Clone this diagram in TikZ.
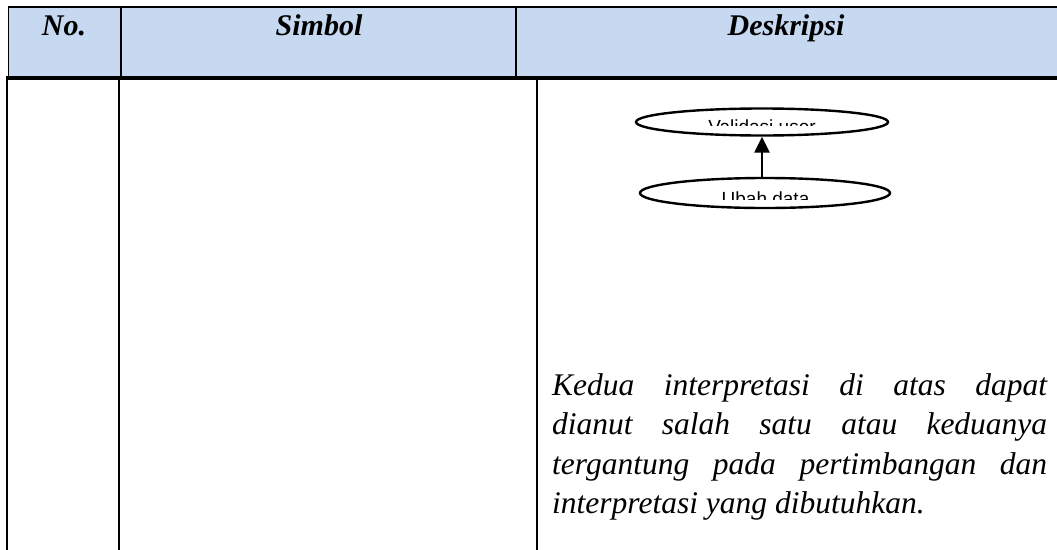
\documentclass[tikz,border=0pt]{standalone}
\usepackage{fontspec}
\setmainfont{Liberation Serif}
\newfontfamily\labelsans{Liberation Sans}
\usetikzlibrary{shapes.geometric,arrows.meta}
\definecolor{headfill}{RGB}{198,217,241}
\begin{document}
\begin{tikzpicture}[x=1pt,y=-1pt,
  rule/.style={line width=2pt,line cap=rect},
  headtxt/.style={anchor=base,inner sep=0pt,font=\fontsize{30}{36}\selectfont\bfseries\itshape},
  usecase/.style={ellipse,draw,line width=2.4pt,inner sep=0pt},
  uclabel/.style={anchor=base,inner sep=0pt,font=\labelsans\fontsize{19}{23}\selectfont},
  flow/.style={line width=2.5pt,-{Triangle[length=16pt,width=15pt]}}]
\useasboundingbox (0,0) rectangle (1057,549);

% header row
\fill[headfill] (8.5,7) rectangle (1057,78);
\draw[rule] (8.5,7) -- (1057,7);
\draw[line width=1.7pt] (8.5,6) -- (8.5,78);
\draw[rule] (121,7) -- (121,78);
\draw[rule] (516,7) -- (516,78);
\draw[line width=4pt] (6,78) -- (1057,78);

\node[headtxt] (hno) at (64,35) {No.};
\node[headtxt] (hsym) at (319,35) {Simbol};
\node[headtxt] (hdesc) at (786,35) {Deskripsi};

% body row
\draw[rule] (7,80) -- (7,549);
\draw[rule] (119,80) -- (119,549);
\draw[rule] (537,80) -- (537,549);

% use case example
\node[usecase,minimum width=252pt,minimum height=27pt] (val) at (762,122) {};
\node[usecase,minimum width=250pt,minimum height=30pt] (ubah) at (765,193) {};
\draw[flow] (val.south |- ubah.north) -- (val.south);

\begin{scope}
  \clip (640,100) rectangle (880,125);
  \node[uclabel] (valtxt) at (762,133) {Validasi user};
\end{scope}
\begin{scope}
  \clip (650,175) rectangle (880,199);
  \node[uclabel] (ubahtxt) at (765.5,205) {Ubah data};
\end{scope}

% description text
\node[anchor=base west,inner sep=0pt] (note) at (552,395) {\parbox[t]{495pt}{%
  \fontsize{31.5}{39.5}\selectfont\itshape\parindent=0pt\hyphenpenalty=10000
  Kedua interpretasi di atas dapat\linebreak
  dianut salah satu atau keduanya\linebreak
  tergantung pada pertimbangan dan\linebreak
  interpretasi yang dibutuhkan.}};
\end{tikzpicture}
\end{document}
